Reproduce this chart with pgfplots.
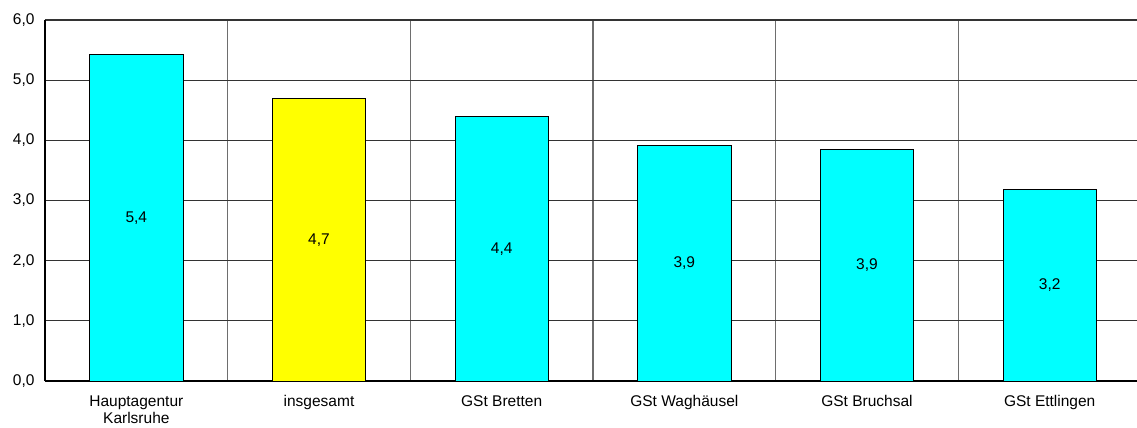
\documentclass[border=0pt]{standalone}
\usepackage{fontspec}
\setmainfont{Liberation Sans}
\usepackage{pgfplots}
\pgfplotsset{compat=1.18}
\usepackage{pgfplotstable}
\definecolor{barcyan}{RGB}{0,255,255}
\definecolor{baryellow}{RGB}{255,255,0}
\definecolor{hgrid}{RGB}{51,51,51}
\definecolor{vgrid}{RGB}{110,110,110}

\pgfplotstableread{
x v lab
0 5.42 {5,4}
2 4.39 {4,4}
3 3.91 {3,9}
4 3.85 {3,9}
5 3.19 {3,2}
}\cyandata
\pgfplotstableread{
x v lab
1 4.69 {4,7}
}\yellowdata

\begin{document}
\begin{tikzpicture}[font=\fontsize{15.5bp}{17bp}\selectfont]
\begin{axis}[
  at={(0,0)}, anchor=south west,
  scale only axis, width=1096bp, height=361bp,
  xmin=-0.5, xmax=5.5, ymin=0, ymax=6,
  xtick={0,1,2,3,4,5},
  xticklabels={{Hauptagentur\\Karlsruhe},insgesamt,GSt Bretten,GSt Waghäusel,GSt Bruchsal,GSt Ettlingen},
  xticklabel style={align=center, text depth=0pt, yshift=-11bp},
  minor xtick={0.5,1.5,2.5,3.5,4.5},
  ytick={0,1,2,3,4,5,6},
  yticklabel style={xshift=-7bp, /pgf/number format/.cd, fixed, fixed zerofill, precision=1, use comma, assume math mode=true},
  major tick length=0pt, minor tick length=0pt,
  xminorgrids, ymajorgrids,
  major grid style={hgrid, line width=1.1bp},
  minor grid style={vgrid, line width=1.5bp},
  axis x line*=bottom, axis y line*=left,
  axis line style={-, black, line width=2.4bp},
  clip=false,
]
\addplot[ybar, bar width=0.51, bar shift=0pt, fill=barcyan, draw=black, line width=0.8bp] table[x=x, y=v] {\cyandata};
\addplot[ybar, bar width=0.51, bar shift=0pt, fill=baryellow, draw=black, line width=0.8bp] table[x=x, y=v] {\yellowdata};
\addplot[draw=none, mark=none, nodes near coords, point meta=explicit symbolic,
  every node near coord/.style={anchor=center, black}] table[x=x, y expr=\thisrow{v}/2, meta=lab] {\cyandata};
\addplot[draw=none, mark=none, nodes near coords, point meta=explicit symbolic,
  every node near coord/.style={anchor=center, black}] table[x=x, y expr=\thisrow{v}/2, meta=lab] {\yellowdata};
\end{axis}
\pgfresetboundingbox
\path[use as bounding box] (-45bp,-47bp) rectangle (1092bp,381bp);
\end{tikzpicture}
\end{document}
